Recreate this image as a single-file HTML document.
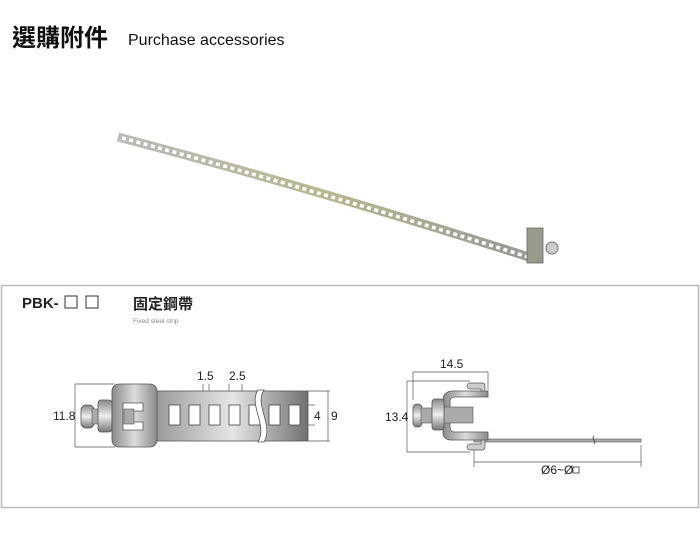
<!DOCTYPE html>
<html><head><meta charset="utf-8"><style>
body{margin:0;width:700px;height:535px;background:#fff;overflow:hidden;font-family:"Liberation Sans","Noto Sans CJK TC",sans-serif}
</style></head><body>
<svg width="700" height="535" viewBox="0 0 700 535" xmlns="http://www.w3.org/2000/svg" font-family="Liberation Sans, Noto Sans CJK TC, sans-serif">
<defs>
<linearGradient id="st" x1="0" x2="1"><stop offset="0" stop-color="#9a9a9a"/><stop offset="0.5" stop-color="#e6e6e6"/><stop offset="1" stop-color="#707070"/></linearGradient>
<linearGradient id="cl" x1="0" x2="1"><stop offset="0" stop-color="#8a8a8a"/><stop offset="0.5" stop-color="#dcdcdc"/><stop offset="1" stop-color="#8a8a8a"/></linearGradient>
<linearGradient id="bv" x1="0" x2="0" y1="0" y2="1"><stop offset="0" stop-color="#888"/><stop offset="0.5" stop-color="#eee"/><stop offset="1" stop-color="#777"/></linearGradient>
<linearGradient id="ph" x1="0" x2="1"><stop offset="0" stop-color="#bbb"/><stop offset="0.5" stop-color="#b8b890"/><stop offset="1" stop-color="#999"/></linearGradient>
</defs>
<text x="12" y="46" font-size="24" font-weight="bold" fill="#111">選購附件</text>
<text x="128" y="45" font-size="16" fill="#111">Purchase accessories</text>
<!-- photo strip -->
<path d="M118 137 Q320 190 532 258" stroke="url(#ph)" stroke-width="9" fill="none"/>
<path d="M122 138 Q320 191 528 257" stroke="#fff" stroke-width="3.5" stroke-dasharray="4 3.5" fill="none"/>
<rect x="527" y="228" width="16" height="35" fill="#9a9a8a" stroke="#666" stroke-width="0.8"/>
<circle cx="552" cy="248" r="6" fill="#ccc" stroke="#777"/>
<!-- box -->
<rect x="1.5" y="285.5" width="697" height="222" fill="none" stroke="#bbb" stroke-width="1.5"/>
<text x="22" y="308" font-size="15" font-weight="bold" fill="#222">PBK-</text>
<rect x="65" y="296" width="12" height="12" fill="none" stroke="#333"/>
<rect x="86" y="296" width="12" height="12" fill="none" stroke="#333"/>
<text x="133" y="309" font-size="15" font-weight="bold" fill="#222">固定鋼帶</text>
<text x="133" y="323" font-size="6.5" fill="#888">Fixed steel strip</text>
<!-- left drawing -->
<g stroke="#555" stroke-width="0.7" fill="none">
<line x1="75" y1="384" x2="75" y2="447"/><line x1="75" y1="384" x2="115" y2="384"/><line x1="75" y1="447" x2="115" y2="447"/>
<line x1="328" y1="391" x2="328" y2="441"/><line x1="308" y1="391" x2="330" y2="391"/><line x1="308" y1="441" x2="330" y2="441"/>
<line x1="300" y1="405" x2="315" y2="405"/><line x1="300" y1="425" x2="315" y2="425"/>
<line x1="203" y1="384" x2="203" y2="405"/><line x1="209" y1="384" x2="209" y2="405"/>
<line x1="229" y1="384" x2="229" y2="405"/><line x1="242" y1="384" x2="242" y2="405"/>
</g>
<rect x="157" y="391" width="151" height="50" fill="url(#st)" stroke="#555" stroke-width="0.8"/>
<g fill="#fff" stroke="#444" stroke-width="0.8">
<rect x="169" y="405" width="11" height="20"/><rect x="189" y="405" width="11" height="20"/>
<rect x="209" y="405" width="11" height="20"/><rect x="229" y="405" width="11" height="20"/>
<rect x="249" y="405" width="11" height="20"/><rect x="269" y="405" width="11" height="20"/>
<rect x="289" y="405" width="11" height="20"/>
</g>
<path d="M258 390 C248 405,268 425,258 442 L264 442 C274 425,254 405,264 390Z" fill="#fff" stroke="#555" stroke-width="0.8"/>
<rect x="81" y="405" width="13" height="23" rx="5" fill="url(#bv)" stroke="#555" stroke-width="0.8"/>
<rect x="92" y="409" width="8" height="15" fill="#aaa" stroke="#555" stroke-width="0.6"/>
<rect x="98" y="400" width="14" height="32" rx="3" fill="url(#bv)" stroke="#555" stroke-width="0.8"/>
<rect x="112" y="384" width="45" height="63" rx="7" fill="url(#cl)" stroke="#555" stroke-width="0.8"/>
<path d="M123 403 H143 V411 H133 V422 H143 V430 H123Z" fill="#fff" stroke="#555" stroke-width="0.8"/>
<rect x="124" y="409" width="10" height="15" fill="#aaa" stroke="#555" stroke-width="0.6"/>
<g font-size="12" fill="#222">
<text x="53" y="420">11.8</text><text x="197" y="380">1.5</text><text x="229" y="380">2.5</text>
<text x="314" y="420">4</text><text x="331" y="420">9</text>
</g>
<!-- right drawing -->
<g stroke="#555" stroke-width="0.7" fill="none">
<line x1="413" y1="372" x2="488" y2="372"/><line x1="413" y1="372" x2="413" y2="400"/><line x1="488" y1="372" x2="488" y2="390"/>
<line x1="407" y1="381" x2="407" y2="452"/><line x1="407" y1="381" x2="470" y2="381"/><line x1="407" y1="452" x2="470" y2="452"/>
<line x1="474" y1="462" x2="641" y2="462"/><line x1="474" y1="445" x2="474" y2="467"/><line x1="641" y1="445" x2="641" y2="467"/>
</g>
<rect x="474" y="439" width="167" height="3" fill="#aaa" stroke="#555" stroke-width="0.6"/>
<path d="M594 436 c-3 3,3 5,0 8" stroke="#555" fill="none"/>
<path d="M470 383 C466 383,466 389,470 389 H481 V393 H485 V386 C485 384,484 383,482 383Z" fill="#ccc" stroke="#555" stroke-width="0.7"/>
<path d="M470 450 C466 450,466 444,470 444 H481 V440 H485 V447 C485 449,484 450,482 450Z" fill="#ccc" stroke="#555" stroke-width="0.7"/>
<path d="M453 391 H488 V397 H455 C451 397 450 399 450 402 V427 C450 430 451 432 455 432 H488 V440 H451 C446 440 443 437 443 433 V400 C443 394 447 391 453 391Z" fill="url(#cl)" stroke="#555" stroke-width="0.8"/>
<rect x="444" y="407" width="29" height="16" fill="#aaa" stroke="#555" stroke-width="0.6"/>
<rect x="413" y="404" width="9" height="23" rx="4" fill="url(#bv)" stroke="#555" stroke-width="0.8"/>
<rect x="421" y="408" width="12" height="15" fill="#aaa" stroke="#555" stroke-width="0.6"/>
<rect x="432" y="399" width="12" height="31" rx="3" fill="url(#bv)" stroke="#555" stroke-width="0.8"/>
<g font-size="12" fill="#222">
<text x="440" y="368">14.5</text><text x="385" y="421">13.4</text>
<text x="541" y="474">Ø6~Ø</text>
</g>
<rect x="573" y="467" width="6" height="6" fill="none" stroke="#333" stroke-width="0.8"/>
</svg>
</body></html>
